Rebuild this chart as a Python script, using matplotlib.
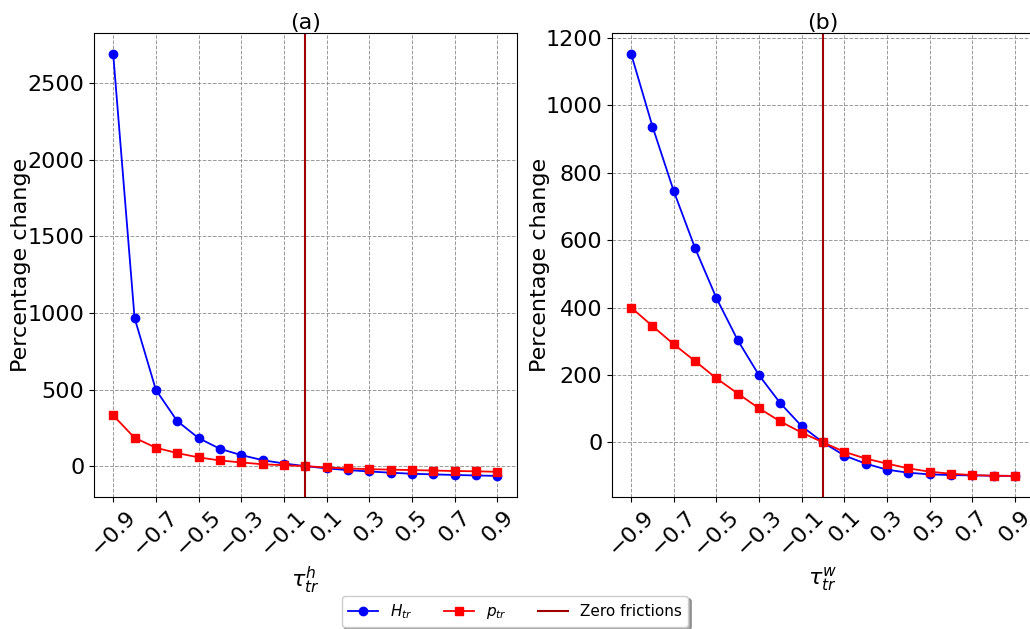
import numpy as np
import matplotlib
matplotlib.use("Agg")
import matplotlib.pyplot as plt

tau = [-0.9, -0.8, -0.7, -0.6, -0.5, -0.4, -0.3, -0.2, -0.1, 0.0,
       0.1, 0.2, 0.3, 0.4, 0.5, 0.6, 0.7, 0.8, 0.9]
xticks = [-0.9, -0.7, -0.5, -0.3, -0.1, 0.1, 0.3, 0.5, 0.7, 0.9]

# Panel (a): tau^h_tr
H_a = [2690, 968, 498, 294, 183, 113, 72, 39, 17, 0,
       -15, -26, -35, -43, -50, -54, -58, -61, -64]
p_a = [331, 185, 120, 85, 57, 37, 24, 12, 6, 0,
       -9, -15, -20, -23, -26, -29, -32, -34, -37]

# Panel (b): tau^w_tr
H_b = [1152, 937, 745, 576, 428, 303, 199, 116, 48, 0,
       -39, -63, -81, -90, -95, -97, -98, -99, -99.5]
p_b = [400, 345, 291, 241, 190, 145, 101, 62, 29, 0,
       -28, -48, -63, -77, -87, -93, -97, -99, -99.5]

fig = plt.figure(figsize=(10.3, 6.29), dpi=100)
W, Hh = 1030, 629
axa = fig.add_axes([94 / W, (Hh - 497) / Hh, (516.5 - 94) / W, (497 - 33) / Hh])
axb = fig.add_axes([612 / W, (Hh - 497) / Hh, (1034 - 612) / W, (497 - 33) / Hh])

panels = [(axa, H_a, p_a, "(a)", r"$\tau^h_{tr}$", -2.5),
          (axb, H_b, p_b, "(b)", r"$\tau^w_{tr}$", -3.5)]
for ax, H, p, title, xl, lp in panels:
    l1, = ax.plot(tau, H, color="blue", marker="o", markersize=6, lw=1.3, label=r"$H_{tr}$")
    l2, = ax.plot(tau, p, color="red", marker="s", markersize=6, lw=1.3, label=r"$p_{tr}$")
    l3 = ax.axvline(0, color="#a00000", lw=1.5, label="Zero frictions")
    ax.set_xticks(xticks)
    ax.set_xticklabels([f"{v:.1f}".replace("-", "\u2212") for v in xticks], rotation=45, fontsize=16)
    ax.tick_params(axis="y", labelsize=16)
    ax.grid(True, linestyle="--", color="gray", alpha=0.8, lw=0.7)
    ax.set_title(title, fontsize=16, pad=3)
    ax.set_xlabel(xl, fontsize=16)
    ax.set_ylabel("Percentage change", fontsize=16, labelpad=lp)

fig.legend(handles=[l1, l2, l3], loc="lower center", ncol=3, shadow=True,
           bbox_to_anchor=(0.5, -0.009), fontsize=11)
fig.savefig("out.png", dpi=100)
